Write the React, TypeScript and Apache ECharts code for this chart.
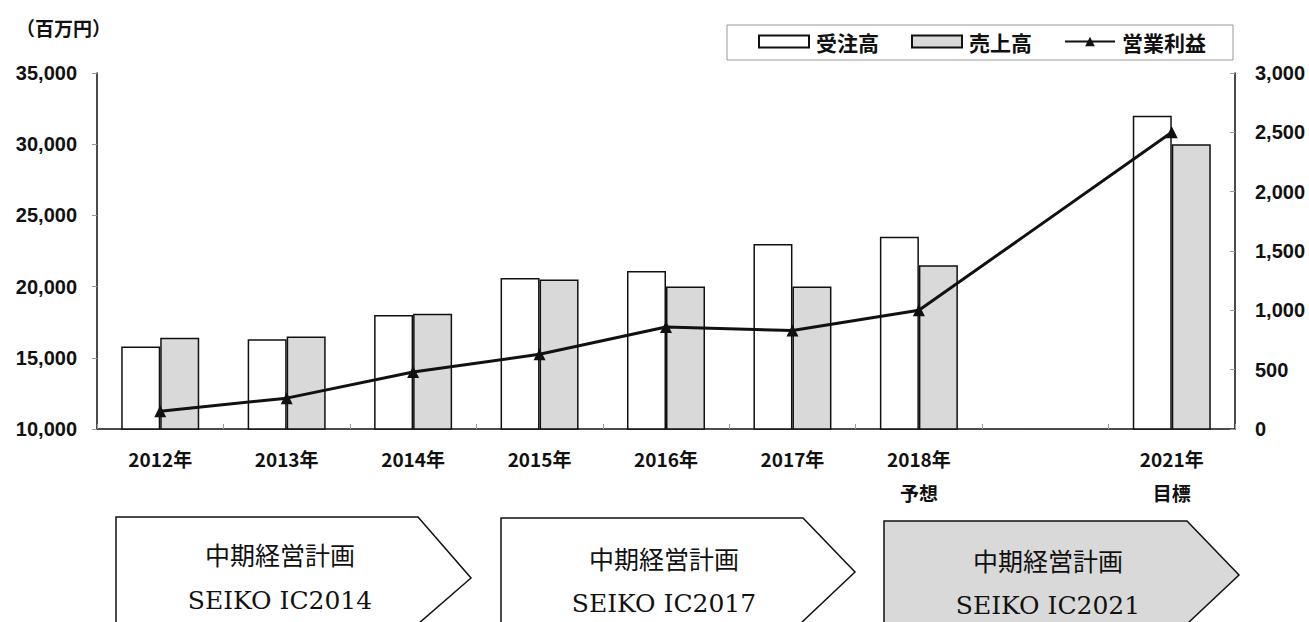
import React, { useEffect, useRef } from "react";
import * as echarts from "echarts";

const categories = ["2012年", "2013年", "2014年", "2015年", "2016年", "2017年", "2018年\n予想", "", "2021年\n目標"];
const orders = [15800, 16300, 18000, 20600, 21100, 23000, 23500, "-", 32000];
const sales = [16400, 16500, 18100, 20500, 20000, 20000, 21500, "-", 30000];
const profit = [150, 260, 480, 630, 860, 830, 1000, null, 2500];
const leftTicks = { min: 10000, max: 35000, interval: 5000 };
const rightTicks = { min: 0, max: 3000, interval: 500 };
const plans = ["SEIKO IC2014", "SEIKO IC2017", "SEIKO IC2021"];

const JP = '"Noto Sans CJK JP", sans-serif';
const NUM = '"Liberation Sans", Arial, sans-serif';
const SERIF = '"DejaVu Serif", "Liberation Serif", serif';

export default function App() {
  const ref = useRef<HTMLDivElement>(null);
  useEffect(() => {
    if (!ref.current) return;
    const chart = echarts.init(ref.current, undefined, { renderer: "svg" });
    const arrows = [
      { pts: [[116, 517], [418, 517], [471, 578], [418, 624], [116, 624]], fill: "#ffffff", cx: 280, y1: 554, y2: 600 },
      { pts: [[501, 518], [803, 518], [855, 572], [800, 624], [501, 624]], fill: "#ffffff", cx: 664, y1: 558, y2: 603 },
      { pts: [[884, 521], [1187, 521], [1239, 575], [1187, 624], [884, 624]], fill: "#d9d9d9", cx: 1048, y1: 560, y2: 605 },
    ];
    const graphics: any[] = [
      {
        type: "rect",
        shape: { x: 727, y: 25, width: 506, height: 35 },
        style: { fill: "none", stroke: "#999999", lineWidth: 1 },
        z: 0,
      },
      {
        type: "text",
        x: 16,
        y: 27,
        style: { text: "（百万円）", font: `bold 19px ${JP}`, fill: "#111", textVerticalAlign: "middle" },
      },
    ];
    arrows.forEach((a, i) => {
      graphics.push({
        type: "polygon",
        shape: { points: a.pts },
        style: { fill: a.fill, stroke: "#111", lineWidth: 1.5 },
      });
      graphics.push({
        type: "text",
        x: a.cx,
        y: a.y1,
        style: { text: "中期経営計画", font: `25px ${JP}`, fill: "#111", textAlign: "center", textVerticalAlign: "middle" },
      });
      graphics.push({
        type: "text",
        x: a.cx,
        y: a.y2,
        style: { text: plans[i], font: `25px ${SERIF}`, fill: "#111", textAlign: "center", textVerticalAlign: "middle" },
      });
    });

    chart.setOption({
      animation: false,
      backgroundColor: "#ffffff",
      grid: { left: 97, right: 74, top: 73, bottom: 193, containLabel: false },
      legend: {
        left: 758,
        top: 31,
        itemWidth: 50,
        itemHeight: 12,
        itemGap: 32,
        padding: 0,
        textStyle: { fontFamily: JP, fontWeight: "bold", fontSize: 21, color: "#111", padding: [0, 0, 0, 2] },
        data: [
          { name: "受注高", icon: "rect" },
          { name: "売上高", icon: "rect" },
          { name: "営業利益" },
        ],
      },
      graphic: graphics,
      xAxis: {
        type: "category",
        data: categories,
        boundaryGap: true,
        axisLine: { lineStyle: { color: "#111", width: 1.5 } },
        axisTick: { show: true, inside: true, length: 5, alignWithLabel: false, lineStyle: { color: "#999" } },
        axisLabel: {
          interval: 0,
          margin: 12,
          fontFamily: JP,
          fontWeight: "bold",
          fontSize: 19,
          lineHeight: 34,
          color: "#111",
        },
      },
      yAxis: [
        {
          type: "value",
          min: leftTicks.min,
          max: leftTicks.max,
          interval: leftTicks.interval,
          splitLine: { show: false },
          axisLine: { show: true, lineStyle: { color: "#111", width: 1.5 } },
          axisTick: { show: true, inside: false, length: 5, lineStyle: { color: "#999" } },
          axisLabel: {
            margin: 20,
            fontFamily: NUM,
            fontWeight: "bold",
            fontSize: 20,
            color: "#111",
            formatter: (v: number) => v.toLocaleString("en-US"),
          },
        },
        {
          type: "value",
          min: rightTicks.min,
          max: rightTicks.max,
          interval: rightTicks.interval,
          splitLine: { show: false },
          axisLine: { show: true, lineStyle: { color: "#111", width: 1.5 } },
          axisTick: { show: true, inside: true, length: 5, lineStyle: { color: "#999" } },
          axisLabel: {
            margin: 20,
            fontFamily: NUM,
            fontWeight: "bold",
            fontSize: 20,
            color: "#111",
            formatter: (v: number) => v.toLocaleString("en-US"),
          },
        },
      ],
      series: [
        {
          name: "受注高",
          type: "bar",
          data: orders,
          barWidth: 39,
          barGap: "0%",
          itemStyle: { color: "#ffffff", borderColor: "#111", borderWidth: 1.5 },
          z: 2,
        },
        {
          name: "売上高",
          type: "bar",
          data: sales,
          barWidth: 39,
          barGap: "0%",
          itemStyle: { color: "#d9d9d9", borderColor: "#111", borderWidth: 1.5 },
          z: 2,
        },
        {
          name: "営業利益",
          type: "line",
          yAxisIndex: 1,
          data: profit,
          connectNulls: true,
          symbol: "triangle",
          symbolSize: 12,
          lineStyle: { color: "#111", width: 3 },
          itemStyle: { color: "#111" },
          z: 5,
        },
      ],
    });
    return () => chart.dispose();
  }, []);
  return <div ref={ref} style={{ position: "absolute", left: 0, top: 0, width: 1309, height: 622 }} />;
}
